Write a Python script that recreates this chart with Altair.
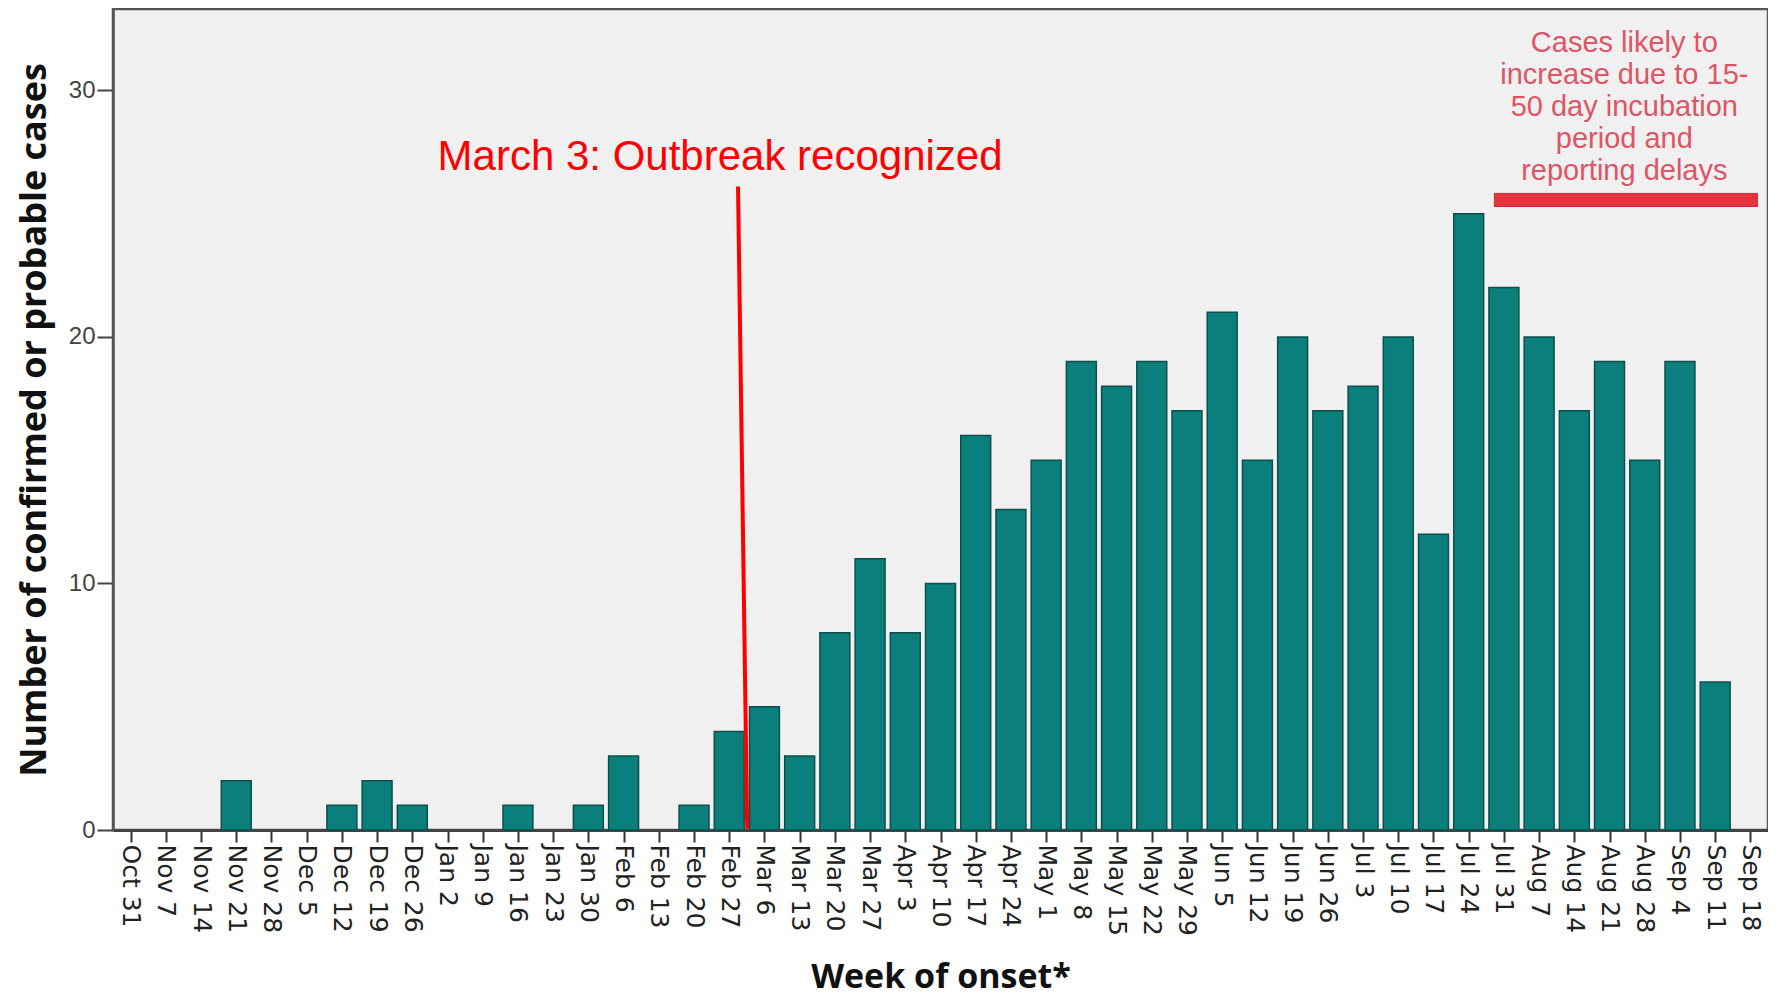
import json
import altair as alt
import pandas as pd

# ---- data ----
weeks = ["Oct 31", "Nov 7", "Nov 14", "Nov 21", "Nov 28", "Dec 5", "Dec 12", "Dec 19",
         "Dec 26", "Jan 2", "Jan 9", "Jan 16", "Jan 23", "Jan 30", "Feb 6", "Feb 13",
         "Feb 20", "Feb 27", "Mar 6", "Mar 13", "Mar 20", "Mar 27", "Apr 3", "Apr 10",
         "Apr 17", "Apr 24", "May 1", "May 8", "May 15", "May 22", "May 29", "Jun 5",
         "Jun 12", "Jun 19", "Jun 26", "Jul 3", "Jul 10", "Jul 17", "Jul 24", "Jul 31",
         "Aug 7", "Aug 14", "Aug 21", "Aug 28", "Sep 4", "Sep 11", "Sep 18"]
cases = [0, 0, 0, 2, 0, 0, 1, 2,
         1, 0, 0, 1, 0, 1, 3, 0,
         1, 4, 5, 3, 8, 11, 8, 10,
         16, 13, 15, 19, 18, 19, 17, 21,
         15, 20, 17, 18, 20, 12, 25, 22,
         20, 17, 19, 15, 19, 6, 0]
y_ticks = [0, 10, 20, 30]

# annotation anchors (in data units: week index / number of cases)
outbreak_text = "March 3: Outbreak recognized"
outbreak_text_pos = [16.74, 26.75]
outbreak_line_x = [17.25, 17.51]
outbreak_line_y = [26.1, 0.05]

delay_text = ["Cases likely to", "increase due to 15-", "50 day incubation",
              "period and", "reporting delays"]
delay_text_pos = [42.42, 31.94]
delay_bar_x = [38.73, 46.2]
delay_bar_y = [25.29, 25.82]

df = pd.DataFrame({"idx": list(range(len(weeks))), "week": weeks, "cases": cases})

xs = alt.Scale(domain=[-0.5, len(weeks) - 0.5], nice=False, zero=False)
ys = alt.Scale(domain=[0, 33.3], nice=False, zero=True)

label_expr = json.dumps(weeks) + "[datum.value]"

x_axis = alt.Axis(
    values=list(range(len(weeks))),
    labelExpr=label_expr,
    labelAngle=90,
    labelOverlap=False,
    labelFlush=False,
    labelFont="DejaVu Sans",
    labelFontSize=25,
    labelColor="#222",
    labelPadding=2,
    tickSize=12,
    tickWidth=2,
    tickColor="#333",
    domainColor="#444",
    domainWidth=3,
    grid=False,
    title="Week of onset*",
    titleFont="Open Sans",
    titleFontWeight="bold",
    titleFontSize=34,
    titleColor="#111",
    titlePadding=25,
)
y_axis = alt.Axis(
    values=y_ticks,
    labelFont="Liberation Sans",
    labelFontSize=24,
    labelColor="#444",
    labelPadding=2,
    tickSize=16,
    tickWidth=2,
    tickColor="#444",
    domainColor="#555",
    domainWidth=2.5,
    grid=False,
    title="Number of confirmed or probable cases",
    titleFont="Open Sans",
    titleFontWeight="bold",
    titleFontSize=36,
    titleColor="#111",
    titlePadding=15,
)

bars = (
    alt.Chart(df)
    .transform_filter("datum.cases > 0")
    .transform_calculate(x0="datum.idx - 0.425", x1="datum.idx + 0.425", base="0")
    .mark_rect(fill="#0b7f7b", stroke="#0d4f4c", strokeWidth=1.5)
    .encode(
        x=alt.X("x0:Q", scale=xs, axis=x_axis),
        x2="x1:Q",
        y=alt.Y("cases:Q", scale=ys, axis=y_axis),
        y2="base:Q",
    )
)

line_df = pd.DataFrame({"x": [outbreak_line_x[0]], "x2": [outbreak_line_x[1]],
                        "y": [outbreak_line_y[0]], "y2": [outbreak_line_y[1]]})
outbreak_line = (
    alt.Chart(line_df)
    .mark_rule(color="#ff0000", strokeWidth=4)
    .encode(
        x=alt.X("x:Q", scale=xs, axis=x_axis),
        x2="x2:Q",
        y=alt.Y("y:Q", scale=ys, axis=y_axis),
        y2="y2:Q",
    )
)

otext_df = pd.DataFrame({"x": [outbreak_text_pos[0]], "y": [outbreak_text_pos[1]],
                         "t": [outbreak_text]})
outbreak_label = (
    alt.Chart(otext_df)
    .mark_text(font="Liberation Sans", fontSize=42, color="#ff0000",
               align="center", baseline="alphabetic")
    .encode(
        x=alt.X("x:Q", scale=xs, axis=x_axis),
        y=alt.Y("y:Q", scale=ys, axis=y_axis),
        text="t:N",
    )
)

bar_df = pd.DataFrame({"x": [delay_bar_x[0]], "x2": [delay_bar_x[1]],
                       "y": [delay_bar_y[0]], "y2": [delay_bar_y[1]]})
delay_bar = (
    alt.Chart(bar_df)
    .mark_rect(fill="#e5333f", stroke="#c92a3a", strokeWidth=1)
    .encode(
        x=alt.X("x:Q", scale=xs, axis=x_axis),
        x2="x2:Q",
        y=alt.Y("y:Q", scale=ys, axis=y_axis),
        y2="y2:Q",
    )
)

dtext_df = pd.DataFrame({"x": [delay_text_pos[0]], "y": [delay_text_pos[1]],
                         "t": ["\n".join(delay_text)]})
delay_label = (
    alt.Chart(dtext_df)
    .mark_text(font="Liberation Sans", fontSize=29, lineHeight=32, color="#dd5566",
               align="center", baseline="middle", lineBreak="\n")
    .encode(
        x=alt.X("x:Q", scale=xs, axis=x_axis),
        y=alt.Y("y:Q", scale=ys, axis=y_axis),
        text="t:N",
    )
)

chart = (
    alt.layer(bars, outbreak_line, outbreak_label, delay_bar, delay_label)
    .properties(
        width=1655,
        height=821,
        padding={"left": 8, "top": 1, "right": 0, "bottom": 3},
        background="white",
    )
    .configure_view(stroke="#555", strokeWidth=2.5, fill="#f0f0f0")
)

chart.save("out.html", embed_options={"renderer": "svg", "actions": False})
